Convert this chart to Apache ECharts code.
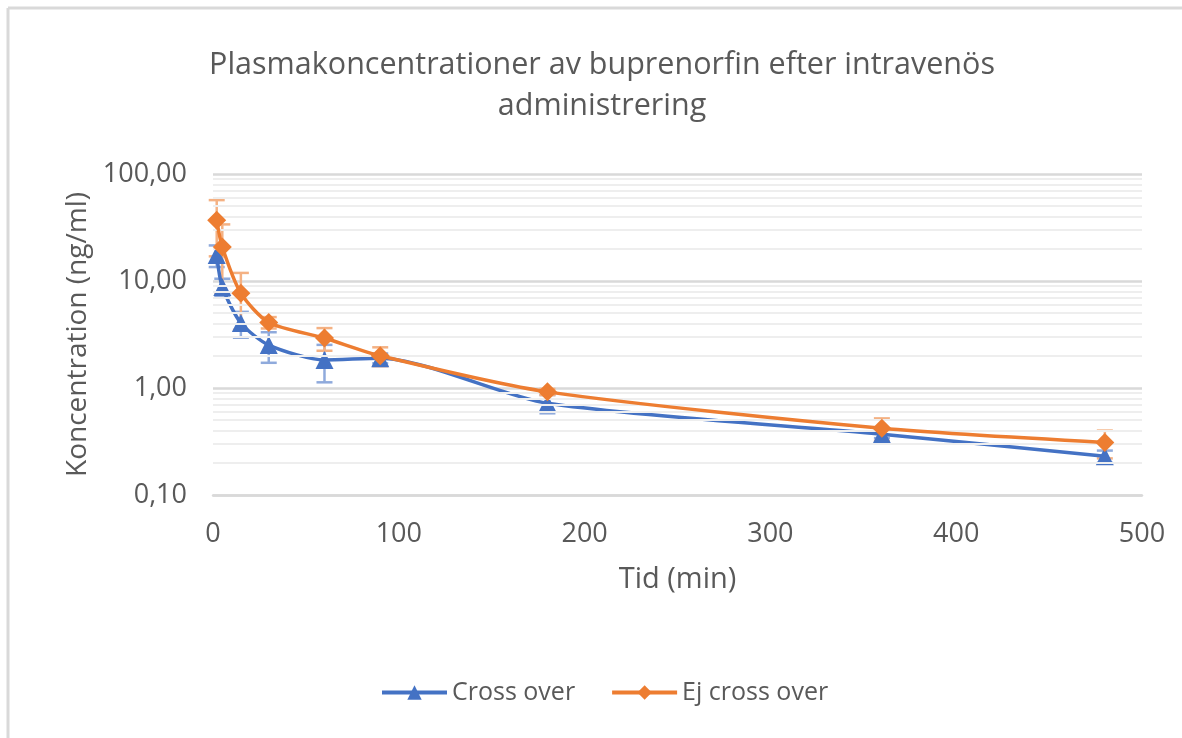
<!DOCTYPE html>
<html>
<head>
<meta charset="utf-8">
<script src="https://cdn.jsdelivr.net/npm/echarts@6/dist/echarts.min.js"></script>
<style>
  html, body { margin: 0; padding: 0; background: #fff; }
  #chart { width: 1182px; height: 738px; }
</style>
</head>
<body>
<div id="chart"></div>
<script>
var times = [2, 5, 15, 30, 60, 90, 180, 360, 480];
var crossOver = [17.5, 8.8, 4.05, 2.52, 1.83, 1.9, 0.72, 0.37, 0.23];
var crossOverErr = [4, 1.7, 1.1, 0.8, 0.7, 0.2, 0.14, 0.03, 0.03];
var ejCrossOver = [37, 20.8, 7.7, 4.1, 2.93, 2.0, 0.92, 0.42, 0.31];
var ejCrossOverErr = [20, 13, 4.2, 0.5, 0.7, 0.4, 0.06, 0.1, 0.09];
var seriesNames = ['Cross over', 'Ej cross over'];

var textColor = '#595959';
var fontFam = '"Open Sans", sans-serif';

// 2..9 i varje dekad, som i Excel
var minorGrid = [];
[0.1, 1, 10].forEach(function (d) {
    for (var k = 2; k <= 9; k++) minorGrid.push(+(k * d).toFixed(3));
});

function pairs(ys) {
    return times.map(function (t, i) { return [t, ys[i]]; });
}
function errData(ys, es) {
    return times.map(function (t, i) { return [t, Math.max(ys[i] - es[i], 0.1), ys[i] + es[i]]; });
}
function errSeries(ys, es, color) {
    return {
        type: 'custom',
        silent: true,
        z: 3,
        data: errData(ys, es),
        renderItem: function (params, api) {
            var top = api.coord([api.value(0), api.value(2)]);
            var bot = api.coord([api.value(0), api.value(1)]);
            var w = 8;
            var st = { stroke: color, lineWidth: 2.5 };
            return {
                type: 'group',
                children: [
                    { type: 'line', shape: { x1: top[0], y1: top[1], x2: bot[0], y2: bot[1] }, style: st },
                    { type: 'line', shape: { x1: top[0] - w, y1: top[1], x2: top[0] + w, y2: top[1] }, style: st },
                    { type: 'line', shape: { x1: bot[0] - w, y1: bot[1], x2: bot[0] + w, y2: bot[1] }, style: st }
                ]
            };
        }
    };
}

var chart = echarts.init(document.getElementById('chart'));
var option = {
    backgroundColor: '#fff',
    textStyle: { fontFamily: fontFam },
    graphic: [
        { type: 'line', shape: { x1: 8, y1: 8, x2: 1182, y2: 8 }, style: { stroke: '#d9d9d9', lineWidth: 3 } },
        { type: 'line', shape: { x1: 8, y1: 8, x2: 8, y2: 738 }, style: { stroke: '#d9d9d9', lineWidth: 3 } }
    ],
    title: {
        text: 'Plasmakoncentrationer av buprenorfin efter intravenös\nadministrering',
        left: 597,
        textAlign: 'center',
        top: 40,
        textStyle: { fontFamily: fontFam, fontSize: 30.5, fontWeight: 'normal', color: textColor, lineHeight: 41 }
    },
    legend: {
        data: seriesNames,
        left: 375,
        top: 675,
        itemWidth: 65,
        itemHeight: 18,
        itemGap: 35,
        lineStyle: { width: 4 },
        textStyle: { fontFamily: fontFam, fontSize: 25, color: textColor }
    },
    grid: { left: 213, right: 40, top: 174, bottom: 243 },
    xAxis: {
        type: 'value',
        min: 0, max: 500, interval: 100,
        name: 'Tid (min)',
        nameLocation: 'middle',
        nameGap: 70,
        nameTextStyle: { fontFamily: fontFam, fontSize: 29, color: textColor },
        axisLine: { show: true, lineStyle: { color: '#d9d9d9', width: 2.5 } },
        axisTick: { show: false },
        splitLine: { show: false },
        axisLabel: { fontFamily: fontFam, fontSize: 27, color: textColor, margin: 26 }
    },
    yAxis: {
        type: 'log',
        logBase: 10,
        min: 0.1, max: 100,
        name: 'Koncentration (ng/ml)',
        nameLocation: 'middle',
        nameGap: 120,
        nameTextStyle: { fontFamily: fontFam, fontSize: 28, color: textColor },
        axisLine: { show: false },
        axisTick: { show: false },
        splitLine: { show: true, lineStyle: { color: '#d9d9d9', width: 2.5 } },
        axisLabel: {
            fontFamily: fontFam, fontSize: 27, color: textColor, margin: 26,
            formatter: function (v) { return v.toFixed(2).replace('.', ','); }
        }
    },
    series: [
        {
            type: 'line',
            name: 'grid',
            data: [],
            silent: true,
            z: 1,
            markLine: {
                silent: true,
                symbol: 'none',
                label: { show: false },
                lineStyle: { color: '#eeeeee', width: 2, type: 'solid' },
                data: minorGrid.map(function (v) { return { yAxis: v }; })
            }
        },
        errSeries(crossOver, crossOverErr, '#8faadc'),
        {
            name: seriesNames[0],
            type: 'line',
            data: pairs(crossOver),
            smooth: 0.25,
            z: 4,
            symbol: 'triangle',
            symbolSize: 18,
            itemStyle: { color: '#4472c4' },
            lineStyle: { color: '#4472c4', width: 3.5 }
        },
        errSeries(ejCrossOver, ejCrossOverErr, '#f4b183'),
        {
            name: seriesNames[1],
            type: 'line',
            data: pairs(ejCrossOver),
            smooth: 0.25,
            z: 5,
            symbol: 'diamond',
            symbolSize: 19,
            itemStyle: { color: '#ed7d31' },
            lineStyle: { color: '#ed7d31', width: 3.5 }
        }
    ]
};
chart.setOption(option);
</script>
</body>
</html>
